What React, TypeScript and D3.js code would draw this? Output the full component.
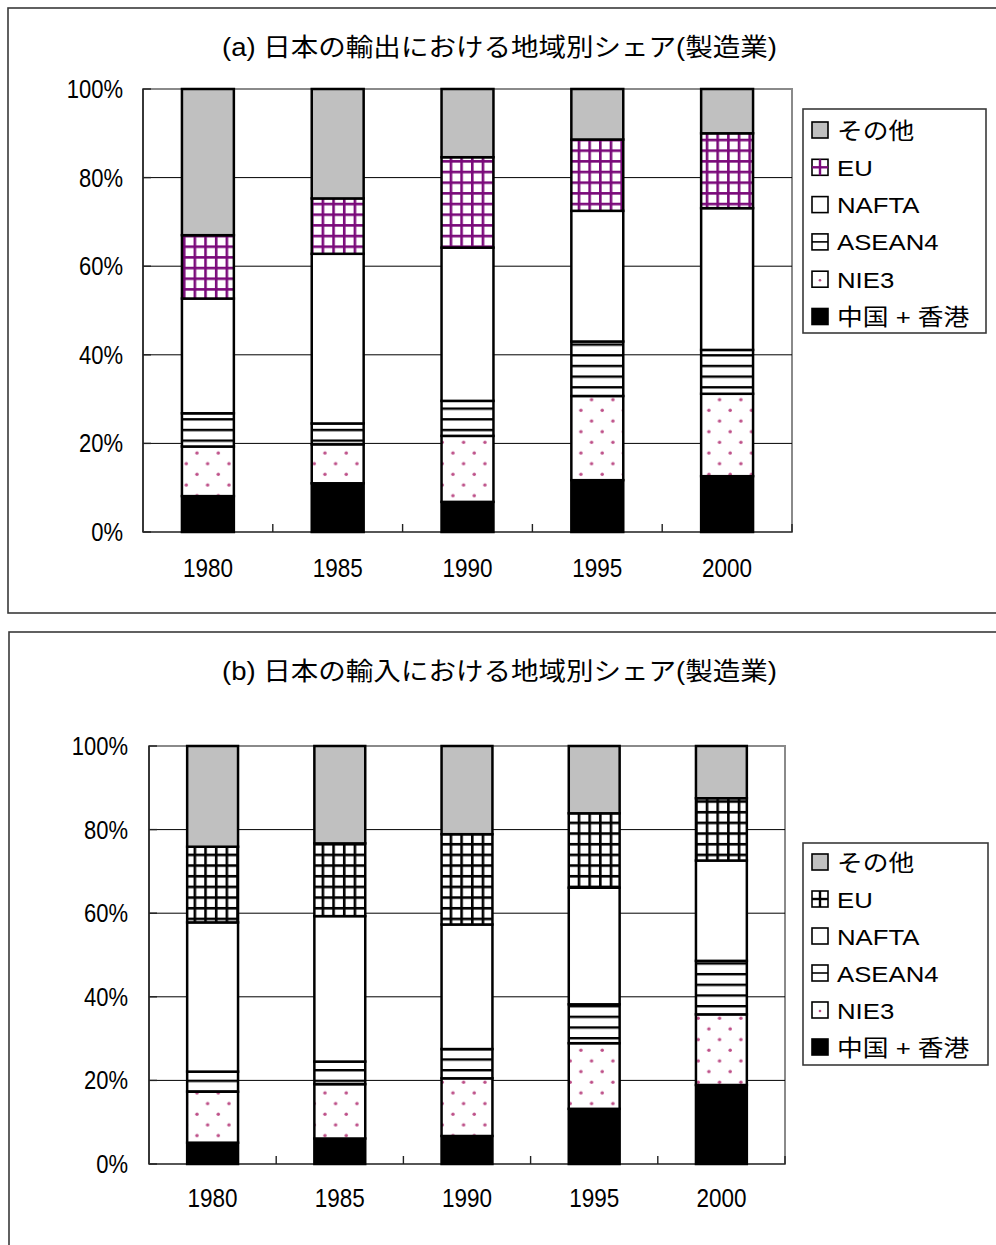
import React from 'react';
import * as d3 from 'd3';

// Categories and series (shares in %, stacked bottom → top)
const years = ['1980', '1985', '1990', '1995', '2000'];
const seriesKeys = ['china', 'nie3', 'asean4', 'nafta', 'eu', 'other'];
const seriesLabels = ['中国 + 香港', 'NIE3', 'ASEAN4', 'NAFTA', 'EU', 'その他'];
const yTicks = [0, 20, 40, 60, 80, 100];

// (a) exports
const expChina = [8.1, 11.0, 6.8, 11.7, 12.6];
const expNie3 = [11.2, 8.8, 14.9, 19.0, 18.6];
const expAsean4 = [7.5, 4.7, 7.9, 12.3, 9.9];
const expNafta = [25.9, 38.3, 34.6, 29.5, 32.0];
const expEu = [14.3, 12.5, 20.4, 16.1, 16.9];
const expOther = [33.0, 24.7, 15.4, 11.4, 10.0];

// (b) imports
const impChina = [5.1, 6.1, 6.7, 13.2, 18.9];
const impNie3 = [12.2, 13.0, 13.8, 15.7, 16.9];
const impAsean4 = [4.8, 5.4, 7.0, 9.3, 12.8];
const impNafta = [35.7, 34.8, 29.8, 27.9, 24.0];
const impEu = [18.1, 17.4, 21.6, 17.8, 14.9];
const impOther = [24.1, 23.3, 21.1, 16.1, 12.5];

const titleA = '(a) 日本の輸出における地域別シェア(製造業)';
const titleB = '(b) 日本の輸入における地域別シェア(製造業)';

const FONT = '"Liberation Sans", Arial, "Noto Sans CJK JP", sans-serif';
const DOT = '#bd4f88';

type Layout = {
  frame: { x: number; y: number; w: number; h: number };
  title: { x: number; y: number };
  plot: { l: number; t: number; r: number; b: number };
  legend: { x: number; y: number; w: number; h: number; first: number; step: number };
  xLabelY: number;
  yLabelX: number;
};

function buildTable(cols: number[][]) {
  return years.map((yr, i) => {
    const row: Record<string, any> = { year: yr };
    seriesKeys.forEach((k, j) => (row[k] = cols[j][i]));
    return row;
  });
}

function SText(props: {
  x: number; y: number; sx: number; anchor?: string; size: number; children: React.ReactNode;
}) {
  const { x, y, sx, anchor = 'start', size, children } = props;
  return (
    <text
      transform={`translate(${x},${y}) scale(${sx},1)`}
      textAnchor={anchor}
      fontFamily={FONT}
      fontSize={size}
      fill="#000"
    >
      {children}
    </text>
  );
}

function Panel(props: { id: string; title: string; cols: number[][]; euColor: string; layout: Layout }) {
  const { id, title, cols, euColor, layout } = props;
  const { plot, legend, frame } = layout;
  const table = buildTable(cols);
  const stacked = d3.stack<any>().keys(seriesKeys)(table);

  const x = d3.scaleBand<string>().domain(years).range([plot.l, plot.r]).paddingInner(0.6).paddingOuter(0.3);
  const y = d3.scaleLinear().domain([0, 100]).range([plot.b, plot.t]);
  const step = x.step();

  const fills: Record<string, string> = {
    china: '#000',
    nie3: `url(#${id}-dots)`,
    asean4: `url(#${id}-hlines)`,
    nafta: '#fff',
    eu: `url(#${id}-grid)`,
    other: '#c0c0c0',
  };

  const legendOrder = [...seriesKeys].reverse();
  const sw = 16;

  return (
    <g>
      <defs>
        <pattern id={`${id}-grid`} patternUnits="userSpaceOnUse" width={10.67} height={10.67} x={1.5} y={0}>
          <rect width={10.67} height={10.67} fill="#fff" />
          <rect x={0} y={0} width={2.6} height={10.67} fill={euColor} />
          <rect x={0} y={0} width={10.67} height={2.6} fill={euColor} />
        </pattern>
        <pattern id={`${id}-hlines`} patternUnits="userSpaceOnUse" width={10.67} height={10.67} x={0} y={2}>
          <rect width={10.67} height={10.67} fill="#fff" />
          <rect x={0} y={0} width={10.67} height={2.4} fill="#000" />
        </pattern>
        <pattern id={`${id}-dots`} patternUnits="userSpaceOnUse" width={21.33} height={21.33}>
          <rect width={21.33} height={21.33} fill="#fff" />
          <circle cx={5} cy={5} r={1.7} fill={DOT} />
          <circle cx={15.67} cy={15.67} r={1.7} fill={DOT} />
        </pattern>
      </defs>

      {/* chart frame */}
      <rect x={frame.x} y={frame.y} width={frame.w} height={frame.h} fill="#fff" stroke="#3a3a3a" strokeWidth={1.6} />

      {/* title */}
      <text
        x={layout.title.x}
        y={layout.title.y}
        textAnchor="middle"
        fontFamily={FONT}
        fontSize={25}
        textLength={555}
        lengthAdjust="spacingAndGlyphs"
      >
        {title}
      </text>

      {/* plot area */}
      <rect x={plot.l} y={plot.t} width={plot.r - plot.l} height={plot.b - plot.t} fill="#fff" stroke="#8a8a8a" strokeWidth={2} />
      {yTicks.slice(1, -1).map((t) => (
        <line key={t} x1={plot.l} x2={plot.r} y1={y(t)} y2={y(t)} stroke="#000" strokeWidth={1} />
      ))}

      {/* axes */}
      <line x1={plot.l} x2={plot.l} y1={plot.t} y2={plot.b} stroke="#222" strokeWidth={1.6} />
      <line x1={plot.l} x2={plot.r} y1={plot.b} y2={plot.b} stroke="#444" strokeWidth={1.6} />
      {yTicks.map((t) => (
        <line key={t} x1={plot.l} x2={plot.l + 8} y1={y(t)} y2={y(t)} stroke="#222" strokeWidth={1.4} />
      ))}
      {d3.range(1, years.length + 1).map((i) => {
        const tx = plot.l + i * step;
        return <line key={i} x1={tx} x2={tx} y1={plot.b} y2={plot.b - 8} stroke="#222" strokeWidth={1.4} />;
      })}

      {/* stacked bars */}
      {stacked.map((s) => (
        <g key={s.key}>
          {s.map((d) => (
            <rect
              key={d.data.year}
              x={x(d.data.year)}
              y={y(d[1])}
              width={x.bandwidth()}
              height={y(d[0]) - y(d[1])}
              fill={fills[s.key]}
              stroke="#000"
              strokeWidth={2.5}
            />
          ))}
        </g>
      ))}

      {/* y labels */}
      {yTicks.map((t) => (
        <SText key={t} x={layout.yLabelX} y={y(t) + 9} sx={0.88} anchor="end" size={25}>
          {`${t}%`}
        </SText>
      ))}

      {/* x labels */}
      {years.map((yr) => (
        <SText key={yr} x={(x(yr) as number) + x.bandwidth() / 2} y={layout.xLabelY} sx={0.9} anchor="middle" size={25}>
          {yr}
        </SText>
      ))}

      {/* legend */}
      <rect x={legend.x} y={legend.y} width={legend.w} height={legend.h} fill="#fff" stroke="#3a3a3a" strokeWidth={1.6} />
      {legendOrder.map((k, i) => {
        const cy = legend.first + i * legend.step;
        const sx0 = legend.x + 9;
        const sy0 = cy - sw / 2;
        const label = seriesLabels[seriesKeys.indexOf(k)];
        let swatch: React.ReactNode;
        if (k === 'eu') {
          swatch = (
            <g>
              <rect x={sx0} y={sy0} width={sw} height={sw} fill="#fff" stroke="#000" strokeWidth={1.6} />
              <line x1={sx0 + sw / 2} x2={sx0 + sw / 2} y1={sy0} y2={sy0 + sw} stroke={euColor} strokeWidth={2.4} />
              <line x1={sx0} x2={sx0 + sw} y1={sy0 + sw / 2} y2={sy0 + sw / 2} stroke={euColor} strokeWidth={2.4} />
            </g>
          );
        } else if (k === 'asean4') {
          swatch = (
            <g>
              <rect x={sx0} y={sy0} width={sw} height={sw} fill="#fff" stroke="#000" strokeWidth={1.6} />
              <line x1={sx0} x2={sx0 + sw} y1={sy0 + sw / 2} y2={sy0 + sw / 2} stroke="#000" strokeWidth={1.6} />
            </g>
          );
        } else if (k === 'nie3') {
          swatch = (
            <g>
              <rect x={sx0} y={sy0} width={sw} height={sw} fill="#fff" stroke="#000" strokeWidth={1.6} />
              <circle cx={sx0 + sw / 2} cy={sy0 + sw / 2 + 1} r={1.3} fill={DOT} />
            </g>
          );
        } else {
          swatch = <rect x={sx0} y={sy0} width={sw} height={sw} fill={fills[k]} stroke="#000" strokeWidth={1.6} />;
        }
        return (
          <g key={k}>
            {swatch}
            <SText x={legend.x + 34} y={cy + 8.5} sx={1.12} size={23}>
              {label}
            </SText>
          </g>
        );
      })}
    </g>
  );
}

const layoutA: Layout = {
  frame: { x: 8, y: 8, w: 1000, h: 605 },
  title: { x: 499.5, y: 56 },
  plot: { l: 143, t: 89, r: 792, b: 532 },
  legend: { x: 803, y: 109, w: 183, h: 224, first: 130, step: 37.3 },
  xLabelY: 577,
  yLabelX: 123,
};

const layoutB: Layout = {
  frame: { x: 9, y: 632, w: 1000, h: 700 },
  title: { x: 499.5, y: 680 },
  plot: { l: 149, t: 746, r: 785, b: 1164 },
  legend: { x: 803, y: 843, w: 185, h: 222, first: 862, step: 37 },
  xLabelY: 1207,
  yLabelX: 128,
};

export default function App() {
  return (
    <svg
      width={996}
      height={1245}
      style={{ position: 'absolute', left: 0, top: 0, display: 'block', background: '#fff' }}
    >
      <Panel
        id="exp"
        title={titleA}
        cols={[expChina, expNie3, expAsean4, expNafta, expEu, expOther]}
        euColor="#7a0a7a"
        layout={layoutA}
      />
      <Panel
        id="imp"
        title={titleB}
        cols={[impChina, impNie3, impAsean4, impNafta, impEu, impOther]}
        euColor="#000"
        layout={layoutB}
      />
    </svg>
  );
}
